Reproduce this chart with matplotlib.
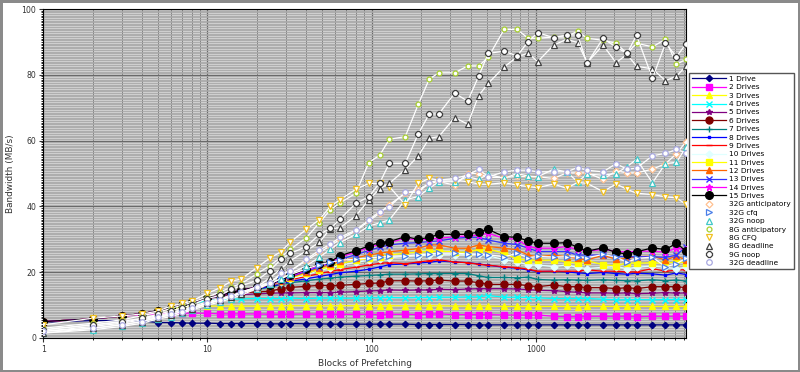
"""Prefetching bandwidth vs blocks, per drive count and per scheduler."""

import matplotlib
matplotlib.use("Agg")
import matplotlib.pyplot as plt
from matplotlib.ticker import MultipleLocator, FuncFormatter, LogLocator

blocks = [1, 2, 3, 4, 5, 6, 7, 8, 10, 12, 14, 16, 20, 24, 28, 32, 40, 48, 56, 64,
          80, 96, 112, 128, 160, 192, 224, 256, 320, 384, 448, 512, 640, 768, 896,
          1024, 1280, 1536, 1792, 2048, 2560, 3072, 3584, 4096, 5120, 6144, 7168, 8192]

drive_1 = [4.8, 5.3, 5.3, 5.2, 4.7, 4.7, 4.6, 4.5, 4.5, 4.4, 4.4, 4.4, 4.4, 4.3, 4.3, 4.4,
           4.3, 4.3, 4.2, 4.2, 4.2, 4.2, 4.2, 4.2, 4.2, 4.1, 4.1, 4.1, 4.1, 4.1, 4.0, 4.0,
           4.0, 4.0, 4.0, 4.0, 4.0, 4.0, 4.0, 4.0, 4.0, 4.0, 4.0, 4.0, 4.0, 4.0, 4.0, 4.0]
drives_2 = [4.9, 5.8, 6.6, 7.1, 7.4, 7.5, 7.5, 7.6, 7.5, 7.3, 7.3, 7.3, 7.3, 7.2, 7.2, 7.2,
            7.3, 7.2, 7.2, 7.2, 7.2, 7.2, 7.1, 7.2, 7.2, 7.1, 7.2, 7.3, 7.1, 7.1, 7.1, 7.1,
            7.0, 7.0, 7.0, 7.0, 6.6, 6.5, 6.5, 6.6, 6.6, 6.6, 6.6, 6.5, 6.6, 6.6, 6.6, 6.6]
drives_3 = [4.9, 5.8, 6.6, 7.4, 8.2, 8.9, 9.3, 9.6, 9.7, 9.7, 9.7, 9.7, 9.7, 9.7, 9.8, 9.8,
            9.8, 9.8, 9.8, 9.8, 9.8, 9.8, 9.8, 9.8, 9.8, 9.7, 9.8, 9.8, 9.7, 9.7, 9.7, 9.7,
            9.6, 9.6, 9.6, 9.6, 9.6, 9.6, 9.5, 9.6, 9.6, 9.6, 9.6, 9.6, 9.6, 9.6, 9.6, 9.6]
drives_4 = [4.9, 5.8, 6.7, 7.4, 8.3, 9.1, 9.9, 10.5, 11.3, 11.7, 11.8, 11.9, 12.0, 12.0, 12.0, 12.1,
            12.0, 12.1, 12.1, 12.1, 12.1, 12.2, 12.2, 12.3, 12.2, 12.3, 12.3, 12.4, 12.4, 12.5, 12.5, 12.9,
            12.4, 12.4, 12.3, 12.2, 12.0, 12.0, 12.0, 12.0, 11.8, 11.6, 11.6, 11.7, 11.6, 11.7, 11.7, 11.6]
drives_5 = [4.9, 5.8, 6.7, 7.4, 8.3, 9.2, 10.0, 10.8, 12.0, 12.6, 13.0, 13.2, 13.4, 13.6, 13.7, 13.7,
            13.8, 13.8, 13.8, 13.9, 14.1, 14.3, 14.4, 14.6, 14.5, 14.6, 14.6, 14.8, 14.7, 14.9, 15.0, 15.0,
            15.0, 14.9, 14.7, 14.5, 14.4, 14.1, 13.9, 13.7, 13.7, 13.6, 13.7, 13.5, 13.6, 13.8, 13.6, 13.7]
drives_6 = [5.0, 5.8, 6.7, 7.4, 8.3, 9.2, 10.0, 10.8, 12.1, 12.9, 13.4, 13.8, 14.0, 14.2, 15.0, 15.4,
            15.7, 16.0, 15.9, 16.0, 16.3, 16.6, 16.7, 17.4, 17.4, 17.3, 17.4, 17.6, 17.3, 17.3, 16.8, 16.3,
            16.3, 16.3, 15.9, 15.6, 16.1, 15.6, 15.6, 15.3, 15.3, 15.0, 15.3, 15.0, 15.6, 15.6, 15.6, 15.3]
drives_7 = [5.0, 5.8, 6.7, 7.4, 8.3, 9.2, 10.0, 10.8, 12.1, 12.9, 13.6, 14.2, 14.8, 15.4, 16.2, 16.8,
            17.4, 17.9, 18.2, 18.5, 18.8, 19.0, 19.2, 19.4, 19.4, 19.5, 19.6, 19.6, 19.6, 19.6, 18.9, 18.4,
            18.4, 18.3, 18.5, 17.8, 17.6, 17.7, 17.6, 17.5, 17.7, 17.5, 17.4, 17.4, 17.7, 17.4, 17.6, 17.3]
drives_8 = [5.0, 5.8, 6.7, 7.4, 8.3, 9.2, 10.0, 10.8, 12.1, 12.9, 13.6, 14.3, 15.0, 15.6, 16.4, 17.2,
            18.0, 18.7, 19.3, 19.8, 20.3, 20.9, 21.6, 22.3, 22.5, 22.8, 23.0, 23.4, 23.1, 22.9, 22.5, 22.1,
            21.5, 21.2, 20.7, 20.2, 20.3, 20.1, 19.8, 19.6, 19.9, 19.6, 19.4, 19.7, 19.5, 19.1, 19.8, 19.3]
drives_9 = [5.0, 5.8, 6.7, 7.4, 8.3, 9.2, 10.0, 10.8, 12.2, 13.0, 13.7, 14.4, 15.2, 16.0, 16.9, 17.7,
            18.7, 19.6, 20.2, 20.8, 21.5, 22.2, 22.7, 22.9, 22.6, 23.1, 23.5, 23.8, 23.1, 22.9, 22.4, 22.1,
            21.7, 21.4, 20.9, 20.3, 20.3, 20.3, 20.3, 20.7, 20.3, 20.3, 20.1, 20.1, 21.1, 20.3, 20.6, 20.8]
drives_10 = [5.0, 5.8, 6.7, 7.4, 8.3, 9.2, 10.0, 10.8, 12.2, 13.0, 13.8, 14.5, 15.3, 16.0, 17.1, 18.0,
             19.2, 20.5, 21.3, 22.1, 23.0, 23.6, 24.0, 24.4, 24.8, 25.0, 25.2, 25.3, 25.3, 25.2, 25.4, 25.0,
             23.8, 23.2, 22.2, 22.2, 21.7, 22.2, 21.5, 21.1, 21.5, 21.7, 21.1, 21.5, 21.9, 21.5, 21.1, 21.5]
drives_11 = [5.0, 5.8, 6.7, 7.4, 8.3, 9.2, 10.0, 10.8, 12.2, 13.0, 13.8, 14.5, 15.3, 16.0, 17.2, 18.3,
             19.7, 20.8, 21.8, 22.6, 23.6, 24.2, 24.6, 25.2, 25.8, 26.1, 26.3, 26.4, 26.2, 26.0, 27.0, 27.0,
             25.8, 24.0, 23.7, 23.6, 23.7, 23.2, 22.7, 23.5, 22.3, 21.9, 22.9, 22.7, 22.9, 22.7, 23.2, 22.9]
drives_12 = [5.0, 5.8, 6.7, 7.4, 8.3, 9.2, 10.0, 10.8, 12.2, 13.0, 13.8, 14.6, 15.4, 16.1, 17.3, 18.5,
             20.0, 21.3, 22.4, 23.3, 24.4, 25.2, 25.8, 26.2, 26.7, 27.2, 28.3, 28.3, 27.3, 27.3, 28.3, 27.8,
             27.3, 26.8, 25.2, 24.7, 25.2, 24.7, 24.2, 23.7, 25.2, 23.9, 24.2, 24.7, 24.9, 23.7, 24.9, 23.7]
drives_13 = [5.0, 5.8, 6.7, 7.4, 8.3, 9.2, 10.0, 10.8, 12.2, 13.0, 13.8, 14.6, 15.4, 16.1, 17.4, 18.6,
             20.3, 21.7, 22.8, 23.9, 25.3, 26.6, 27.6, 28.3, 28.8, 29.0, 29.3, 29.5, 30.3, 30.6, 30.6, 29.8,
             28.8, 28.4, 27.3, 26.3, 26.3, 26.3, 25.2, 25.2, 25.2, 24.9, 24.7, 24.7, 24.7, 24.5, 25.2, 27.8]
drives_14 = [5.0, 5.8, 6.7, 7.4, 8.3, 9.2, 10.0, 10.8, 12.2, 13.0, 13.8, 14.6, 15.4, 16.1, 17.6, 18.8,
             20.6, 22.1, 23.0, 24.6, 26.1, 27.5, 28.5, 29.0, 30.3, 29.8, 30.1, 30.3, 30.8, 31.0, 31.3, 31.8,
             30.3, 30.0, 27.8, 27.3, 27.3, 27.8, 26.9, 26.4, 26.9, 26.4, 26.1, 26.4, 26.4, 26.1, 27.3, 26.9]
drives_15 = [5.0, 5.8, 6.7, 7.4, 8.3, 9.2, 10.0, 10.8, 12.2, 13.0, 13.8, 14.6, 15.4, 16.1, 17.8, 19.0,
             20.9, 22.4, 23.2, 25.0, 26.5, 28.0, 29.0, 29.3, 30.8, 30.0, 30.6, 31.5, 31.5, 31.5, 32.3, 33.0,
             30.8, 30.6, 29.5, 28.8, 28.8, 29.0, 27.6, 26.4, 27.4, 26.0, 25.5, 26.2, 27.4, 26.9, 28.8, 26.4]

g32_anticipatory = [2.5, 4.0, 4.8, 5.8, 6.8, 7.8, 8.6, 9.5, 11.0, 12.0, 13.0, 13.8, 15.5, 17.0, 19.0, 20.5,
                    23.5, 26.0, 28.0, 30.0, 32.5, 35.5, 38.0, 40.5, 44.0, 45.0, 47.0, 47.5, 46.5, 50.0, 50.0, 48.8,
                    48.8, 49.1, 49.0, 49.0, 48.5, 50.2, 50.2, 50.2, 48.2, 50.8, 50.2, 50.2, 51.3, 53.0, 56.0, 59.7]
g32_cfq = [2.0, 3.5, 4.5, 5.5, 6.5, 7.5, 8.5, 9.3, 10.5, 11.8, 12.8, 13.6, 15.0, 16.5, 18.0, 19.3,
           21.0, 22.3, 23.0, 23.6, 24.0, 24.3, 24.6, 24.8, 25.0, 25.3, 25.5, 25.8, 25.8, 25.5, 25.5, 25.3,
           24.7, 25.7, 24.4, 24.8, 24.6, 24.7, 24.7, 24.4, 25.4, 24.6, 23.0, 24.2, 24.6, 21.6, 22.6, 24.2]
g32_noop = [1.5, 2.5, 3.5, 4.5, 5.8, 6.5, 7.5, 8.5, 10.0, 11.0, 12.0, 13.0, 15.0, 16.5, 18.0, 19.5,
            22.0, 24.5, 27.0, 29.0, 31.5, 34.0, 35.0, 35.9, 42.0, 43.0, 45.5, 47.5, 47.5, 49.0, 48.2, 49.8,
            48.5, 50.0, 49.2, 49.0, 51.3, 50.5, 47.5, 49.8, 49.5, 50.0, 52.1, 54.3, 47.2, 53.0, 53.4, 58.0]
g8_anticipatory = [3.0, 4.5, 5.5, 6.8, 7.8, 9.0, 10.0, 10.8, 12.5, 14.0, 15.5, 16.5, 19.5, 22.0, 24.5, 27.0,
                   30.5, 35.0, 39.0, 41.0, 44.0, 53.3, 55.6, 60.4, 61.2, 71.0, 78.7, 80.6, 80.6, 82.7, 82.7, 85.3,
                   93.8, 93.8, 91.1, 91.1, 91.5, 91.5, 93.3, 91.1, 90.5, 89.6, 86.5, 89.6, 88.5, 90.8, 83.2, 84.7]
g8_cfq = [4.0, 6.0, 6.7, 7.3, 8.2, 9.7, 10.5, 11.2, 13.6, 15.3, 17.3, 17.9, 21.4, 24.3, 26.2, 29.2,
          33.0, 36.0, 40.0, 42.0, 45.2, 47.0, 47.0, 46.0, 40.5, 47.0, 48.5, 48.0, 48.0, 47.5, 46.8, 46.7,
          47.2, 46.5, 46.0, 45.7, 46.8, 45.5, 47.3, 47.0, 44.5, 46.8, 45.2, 44.0, 43.6, 42.9, 42.6, 40.6]
g8_deadline = [1.5, 3.0, 4.0, 5.0, 6.2, 7.0, 8.0, 8.8, 10.5, 11.5, 12.5, 13.5, 15.5, 18.3, 21.0, 23.5,
               26.5, 29.1, 33.2, 33.5, 37.1, 42.0, 45.4, 47.0, 51.2, 55.3, 60.7, 61.2, 67.0, 65.0, 73.7, 77.4,
               82.4, 85.4, 86.6, 84.0, 89.0, 90.8, 89.8, 83.7, 89.0, 83.7, 86.2, 82.6, 81.8, 78.2, 79.6, 82.6]
g9_noop = [2.5, 4.0, 5.0, 6.0, 7.2, 8.2, 9.2, 10.0, 12.0, 13.0, 14.8, 15.8, 17.5, 20.5, 23.9, 25.7,
           27.8, 31.5, 33.3, 36.1, 40.9, 42.9, 47.2, 53.1, 53.1, 62.0, 68.1, 68.1, 74.4, 72.0, 79.6, 86.5,
           87.2, 85.7, 90.1, 92.8, 91.3, 92.1, 92.1, 83.5, 91.1, 88.4, 86.5, 92.0, 78.9, 89.6, 85.5, 89.4]
g32_deadline = [2.0, 3.0, 4.0, 5.0, 6.3, 7.2, 8.0, 9.0, 10.5, 11.5, 12.8, 14.0, 15.5, 16.6, 19.7, 20.3,
                23.9, 26.7, 28.5, 30.6, 32.8, 35.9, 38.4, 39.9, 44.3, 44.3, 47.2, 48.0, 48.5, 49.5, 51.3, 49.0,
                50.5, 51.0, 51.0, 50.5, 50.5, 50.5, 51.8, 51.0, 50.5, 53.0, 51.3, 51.6, 55.4, 56.1, 57.3, 56.3]

# (label, values, line colour, marker, marker size)
drive_series = [
    ("1 Drive", drive_1, "#000080", "D", 3.2),
    ("2 Drives", drives_2, "#ff00ff", "s", 4.5),
    ("3 Drives", drives_3, "#ffff00", "^", 4.5),
    ("4 Drives", drives_4, "#00ffff", "x", 4),
    ("5 Drives", drives_5, "#800080", "*", 4),
    ("6 Drives", drives_6, "#800000", "o", 5),
    ("7 Drives", drives_7, "#008080", "+", 5),
    ("8 Drives", drives_8, "#0000ff", "s", 2),
    ("9 Drives", drives_9, "#ff0000", "_", 5),
    ("10 Drives", drives_10, "#e0ffff", "D", 3.5),
    ("11 Drives", drives_11, "#ffff00", "s", 5),
    ("12 Drives", drives_12, "#ff6600", "^", 5),
    ("13 Drives", drives_13, "#3333ff", "x", 4.5),
    ("14 Drives", drives_14, "#ff00ff", "*", 4.5),
    ("15 Drives", drives_15, "#000000", "o", 5.5),
]
sched_series = [
    ("32G anticipatory", g32_anticipatory, "#ffc090", "D", 3.5),
    ("32G cfq", g32_cfq, "#4a7fe8", ">", 4),
    ("32G noop", g32_noop, "#40c8c8", "^", 4),
    ("8G anticipatory", g8_anticipatory, "#a8d030", "o", 3.5),
    ("8G CFQ", g8_cfq, "#f0c020", "v", 4),
    ("8G deadline", g8_deadline, "#404040", "^", 4),
    ("9G noop", g9_noop, "#404040", "8", 4),
    ("32G deadline", g32_deadline, "#a8a8e0", "o", 4),
]

fig, ax = plt.subplots(figsize=(8, 3.72), dpi=100)
fig.subplots_adjust(left=0.054, right=0.8575, bottom=0.0914, top=0.9758)
fig.patch.set_edgecolor("#8a8a8a")
fig.patch.set_linewidth(2.5)

ax.set_facecolor("#cfcfcf")
for lab, vals, col, mk, ms in drive_series:
    ax.plot(blocks, vals, color=col, marker=mk, markersize=ms, linewidth=0.9,
            markeredgecolor=col, markeredgewidth=1, label=lab, zorder=3)
for lab, vals, col, mk, ms in sched_series:
    ax.plot(blocks, vals, color="white", marker=mk, markersize=ms, linewidth=0.9,
            markerfacecolor="white", markeredgecolor=col, markeredgewidth=0.9,
            label=lab, zorder=4)

ax.set_xscale("log")
ax.set_xlim(1, 8192)
ax.set_ylim(0, 100)
ax.xaxis.set_major_formatter(FuncFormatter(lambda v, p: f"{v:g}"))
ax.xaxis.set_minor_locator(LogLocator(base=10, subs=range(2, 10), numticks=20))
ax.yaxis.set_major_locator(MultipleLocator(20))
ax.yaxis.set_minor_locator(MultipleLocator(0.5))
ax.grid(which="minor", axis="y", color="#a8a8a8", linewidth=0.6)
ax.grid(which="minor", axis="x", color="#858585", linewidth=0.7)
ax.grid(which="major", color="#6a6a6a", linewidth=0.9)
ax.set_axisbelow(True)
ax.tick_params(labelsize=5.6, colors="#333333", length=3, pad=2)
ax.tick_params(which="minor", length=1.5)
ax.set_xlabel("Blocks of Prefetching", fontsize=6.4, color="#333333", labelpad=4)
ax.set_ylabel("Bandwidth (MB/s)", fontsize=6.4, color="#333333", labelpad=5)

fig.legend(loc="upper left", bbox_to_anchor=(0.861, 0.804), borderaxespad=0,
           fontsize=5.3, labelspacing=0.3, handlelength=4.6, handletextpad=0.5,
           borderpad=0.4, fancybox=False, edgecolor="#555555", framealpha=1)

plt.savefig("out.png", dpi=100)
plt.close()
